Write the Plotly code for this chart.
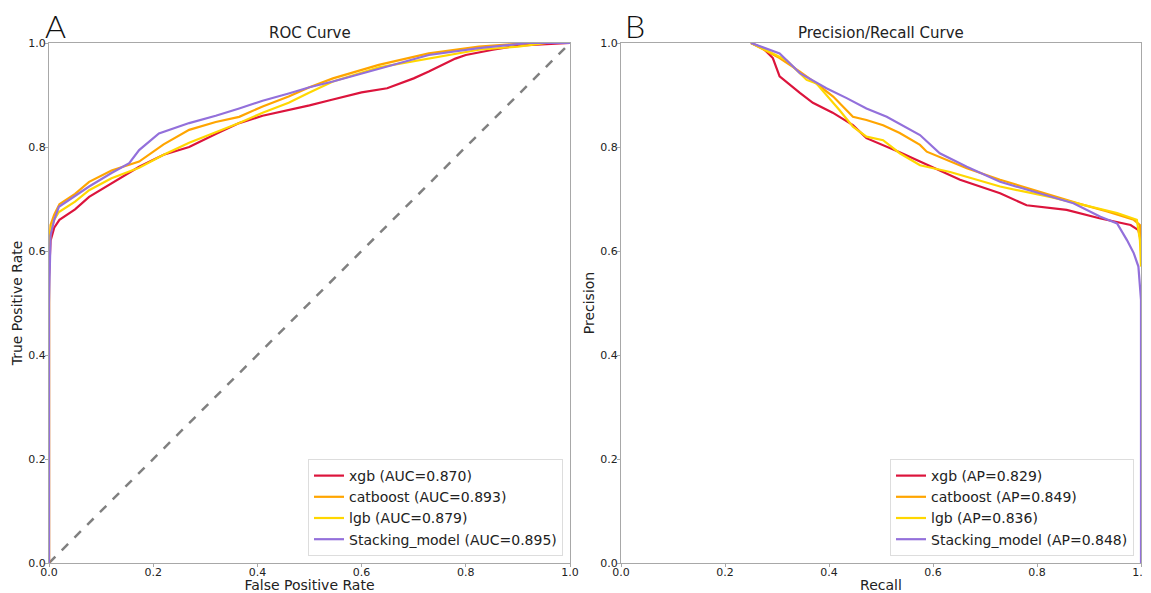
import plotly.graph_objects as go

# ---------------- data ----------------
models = ["xgb", "catboost", "lgb", "Stacking_model"]
colors = ["crimson", "orange", "gold", "mediumpurple"]
auc = [0.870, 0.893, 0.879, 0.895]
ap = [0.829, 0.849, 0.836, 0.848]

xgb_fpr = [0, 0, 0.003, 0.01, 0.02, 0.05, 0.077, 0.12, 0.173, 0.22, 0.269, 0.32, 0.365, 0.41, 0.46, 0.5, 0.539, 0.6, 0.649, 0.7, 0.729, 0.78, 0.8, 0.83, 0.852, 0.9, 0.95, 1.0]
xgb_tpr = [0, 0.55, 0.62, 0.645, 0.66, 0.68, 0.704, 0.73, 0.762, 0.785, 0.80, 0.825, 0.846, 0.86, 0.871, 0.88, 0.89, 0.905, 0.913, 0.932, 0.945, 0.97, 0.977, 0.983, 0.987, 0.995, 0.998, 1.0]

cat_fpr = [0, 0, 0.003, 0.01, 0.02, 0.05, 0.077, 0.12, 0.173, 0.22, 0.269, 0.32, 0.365, 0.41, 0.46, 0.5, 0.545, 0.633, 0.729, 0.825, 0.92, 1.0]
cat_tpr = [0, 0.6, 0.65, 0.67, 0.69, 0.71, 0.733, 0.755, 0.772, 0.805, 0.833, 0.848, 0.858, 0.878, 0.897, 0.915, 0.932, 0.958, 0.98, 0.993, 1.0, 1.0]

lgb_fpr = [0, 0, 0.003, 0.01, 0.019, 0.05, 0.077, 0.12, 0.173, 0.22, 0.269, 0.32, 0.365, 0.41, 0.46, 0.5, 0.545, 0.633, 0.729, 0.825, 0.9, 0.955, 1.0]
lgb_tpr = [0, 0.58, 0.64, 0.66, 0.675, 0.695, 0.717, 0.74, 0.76, 0.785, 0.808, 0.828, 0.846, 0.866, 0.885, 0.905, 0.926, 0.953, 0.97, 0.987, 0.993, 1.0, 1.0]

stk_fpr = [0, 0, 0.003, 0.01, 0.019, 0.05, 0.077, 0.12, 0.154, 0.173, 0.211, 0.269, 0.32, 0.365, 0.41, 0.46, 0.5, 0.545, 0.633, 0.729, 0.825, 0.92, 1.0]
stk_tpr = [0, 0.5, 0.63, 0.66, 0.685, 0.705, 0.724, 0.75, 0.769, 0.794, 0.826, 0.846, 0.86, 0.874, 0.889, 0.903, 0.915, 0.926, 0.951, 0.977, 0.99, 1.0, 1.0]

xgb_rec = [0.25, 0.273, 0.292, 0.305, 0.344, 0.369, 0.407, 0.446, 0.472, 0.504, 0.536, 0.575, 0.652, 0.729, 0.78, 0.857, 0.92, 0.98, 0.995, 1.0, 1.0]
xgb_prec = [1.0, 0.99, 0.971, 0.936, 0.904, 0.885, 0.866, 0.842, 0.817, 0.804, 0.79, 0.772, 0.737, 0.711, 0.688, 0.679, 0.663, 0.65, 0.64, 0.62, 0.6]

cat_rec = [0.25, 0.305, 0.344, 0.376, 0.408, 0.446, 0.472, 0.504, 0.536, 0.575, 0.588, 0.665, 0.729, 0.793, 0.877, 0.935, 0.986, 0.998, 1.0]
cat_prec = [1.0, 0.971, 0.945, 0.922, 0.897, 0.858, 0.852, 0.842, 0.827, 0.804, 0.791, 0.759, 0.737, 0.717, 0.692, 0.676, 0.66, 0.65, 0.62]

lgb_rec = [0.25, 0.286, 0.318, 0.357, 0.376, 0.42, 0.446, 0.472, 0.504, 0.536, 0.575, 0.633, 0.729, 0.825, 0.889, 0.954, 0.992, 0.998, 1.0]
lgb_prec = [1.0, 0.983, 0.967, 0.929, 0.922, 0.871, 0.839, 0.82, 0.813, 0.788, 0.765, 0.752, 0.724, 0.704, 0.688, 0.673, 0.66, 0.62, 0.57]

stk_rec = [0.25, 0.305, 0.344, 0.395, 0.434, 0.472, 0.511, 0.575, 0.613, 0.665, 0.729, 0.793, 0.87, 0.922, 0.954, 0.973, 0.986, 0.995, 1.0, 1.0]
stk_prec = [1.0, 0.98, 0.942, 0.913, 0.894, 0.874, 0.858, 0.823, 0.788, 0.762, 0.733, 0.714, 0.692, 0.666, 0.653, 0.621, 0.596, 0.57, 0.506, 0.0]

diag = [0, 1]
ticks = [0.0, 0.2, 0.4, 0.6, 0.8, 1.0]
tick_text = ["0.0", "0.2", "0.4", "0.6", "0.8", "1.0"]

roc = [(xgb_fpr, xgb_tpr), (cat_fpr, cat_tpr), (lgb_fpr, lgb_tpr), (stk_fpr, stk_tpr)]
pr = [(xgb_rec, xgb_prec), (cat_rec, cat_prec), (lgb_rec, lgb_prec), (stk_rec, stk_prec)]

# ---------------- figure ----------------
# the page body has an 8px margin, so the figure is 8px smaller and shifted
OFF = 8
W, H = 1151 - OFF, 593 - OFF


def px(x):
    return (x - OFF) / W


def py(y):
    return (H - (y - OFF)) / H


fig = go.Figure()

fig.add_trace(go.Scatter(x=diag, y=diag, mode="lines", showlegend=False,
                         line=dict(color="#808080", width=2.5, dash="dash"),
                         xaxis="x", yaxis="y"))
for (fx, ty), name, c, a in zip(roc, models, colors, auc):
    fig.add_trace(go.Scatter(x=fx, y=ty, mode="lines", name=f"{name} (AUC={a:.3f})",
                             line=dict(color=c, width=2.2), xaxis="x", yaxis="y",
                             legend="legend"))
for (rx, pv), name, c, a in zip(pr, models, colors, ap):
    fig.add_trace(go.Scatter(x=rx, y=pv, mode="lines", name=f"{name} (AP={a:.3f})",
                             line=dict(color=c, width=2.2), xaxis="x2", yaxis="y2",
                             legend="legend2"))

ydom = [py(563), py(43)]
axis_common = dict(range=[0, 1], tickvals=ticks, ticktext=tick_text, automargin=False,
                   showgrid=False, zeroline=False, showline=True, linecolor="#a8a8a8",
                   linewidth=1.3, mirror=True, ticks="outside", ticklen=3,
                   tickcolor="#a8a8a8", tickfont=dict(family="DejaVu Sans", size=11, color="#222"))
title_font = dict(family="DejaVu Sans", size=14, color="#222")
legend_common = dict(yanchor="bottom", xanchor="right",
                     bgcolor="rgba(255,255,255,0.85)", bordercolor="#dddddd", borderwidth=1,
                     font=dict(family="DejaVu Sans", size=14, color="#222"),
                     tracegroupgap=0, itemwidth=30)
panel_font = dict(family="Lato", size=32, color="#111", weight=300)

fig.update_layout(
    width=W, height=H,
    margin=dict(l=0, r=0, t=0, b=0),
    paper_bgcolor="white", plot_bgcolor="white",
    xaxis=dict(domain=[px(49), px(570)], anchor="y", ticklabelstandoff=-4,
               title=dict(text="False Positive Rate", standoff=2, font=title_font),
               **axis_common),
    yaxis=dict(domain=ydom, anchor="x", ticklabelstandoff=-3,
               title=dict(text="True Positive Rate", standoff=2, font=title_font),
               **axis_common),
    xaxis2=dict(domain=[px(621), px(1141)], anchor="y2", ticklabelstandoff=-4,
                title=dict(text="Recall", standoff=2, font=title_font),
                **axis_common),
    yaxis2=dict(domain=ydom, anchor="x2", ticklabelstandoff=-3,
                title=dict(text="Precision", standoff=2, font=title_font),
                **axis_common),
    legend=dict(x=px(563), y=py(556), **legend_common),
    legend2=dict(x=px(1134), y=py(556), **legend_common),
    annotations=[
        dict(text="ROC Curve", x=px((49 + 570) / 2), y=py(43), xref="paper", yref="paper",
             xanchor="center", yanchor="bottom", showarrow=False, yshift=-1,
             font=dict(family="DejaVu Sans", size=15, color="#222")),
        dict(text="Precision/Recall Curve", x=px((621 + 1141) / 2), y=py(43),
             xref="paper", yref="paper", xanchor="center", yanchor="bottom",
             showarrow=False, yshift=-1,
             font=dict(family="DejaVu Sans", size=15, color="#222")),
        dict(text="A", x=px(43), y=py(47), xref="paper", yref="paper",
             xanchor="left", yanchor="bottom", showarrow=False, font=panel_font),
        dict(text="B", x=px(623), y=py(47), xref="paper", yref="paper",
             xanchor="left", yanchor="bottom", showarrow=False, font=panel_font),
    ],
)

fig.write_html("out.html")
